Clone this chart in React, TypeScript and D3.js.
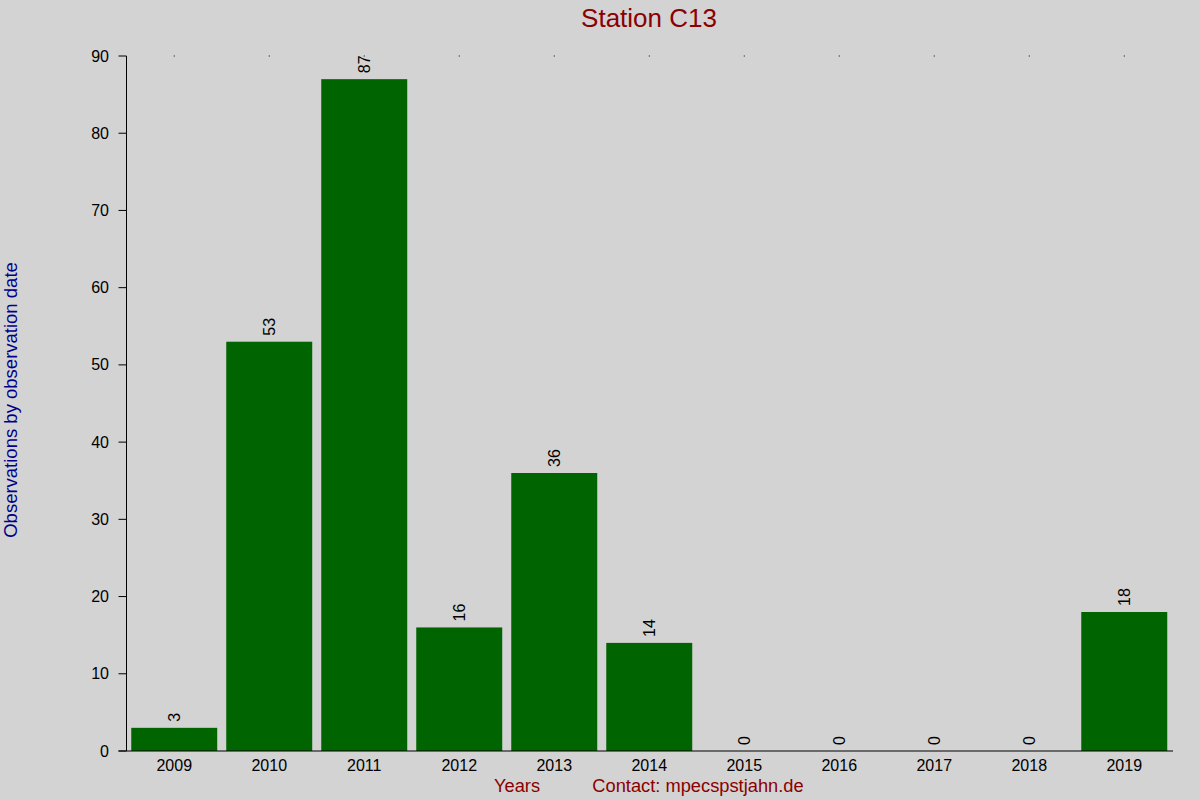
import React from "react";
import * as d3 from "d3";

const years = ["2009", "2010", "2011", "2012", "2013", "2014", "2015", "2016", "2017", "2018", "2019"];
const counts = [3, 53, 87, 16, 36, 14, 0, 0, 0, 0, 18];
const yTicks = [0, 10, 20, 30, 40, 50, 60, 70, 80, 90];

const W = 1200;
const H = 800;
const left = 126.5;
const right = 1172;
const top = 56;
const bottom = 751;
const FONT = "'Liberation Sans', Arial, Helvetica, sans-serif";

export default function App() {
  const x = d3.scaleBand<string>().domain(years).range([left, right]).paddingInner(0.095).paddingOuter(0.05);
  const y = d3.scaleLinear().domain([0, 90]).range([bottom, top]);
  const bw = x.bandwidth();

  return (
    <svg
      width={W}
      height={H}
      style={{ position: "fixed", left: 0, top: 0, background: "#d3d3d3" }}
      fontFamily={FONT}
    >
      <rect x={0} y={0} width={W} height={H} fill="#d3d3d3" />
      <text x={649} y={27} textAnchor="middle" fontSize={26} fill="#8b0000">
        Station C13
      </text>
      {years.map((yr, i) => (
        <g key={yr}>
          {counts[i] > 0 && (
            <rect x={x(yr)!} y={y(counts[i])} width={bw} height={y(0) - y(counts[i])} fill="#006400" />
          )}
          <text
            transform={`translate(${x(yr)! + bw / 2},${y(counts[i]) - 6}) rotate(-90)`}
            dy="0.35em"
            textAnchor="start"
            fontSize={16}
            fill="#000"
          >
            {counts[i]}
          </text>
          <rect x={x(yr)! + bw / 2 - 0.5} y={top - 0.5} width={1} height={1} fill="#000" />
          <text x={x(yr)! + bw / 2} y={771} textAnchor="middle" fontSize={16} fill="#000">
            {yr}
          </text>
        </g>
      ))}
      <line x1={left} x2={left} y1={top} y2={bottom} stroke="#000" strokeWidth={1} />
      {yTicks.map((t) => (
        <g key={t}>
          <line x1={left - 8} x2={left} y1={y(t)} y2={y(t)} stroke="#000" strokeWidth={1} />
          <text x={109} y={y(t)} dy="0.35em" textAnchor="end" fontSize={16} fill="#000">
            {t}
          </text>
        </g>
      ))}
      <line x1={left - 8} x2={right + 1} y1={bottom} y2={bottom} stroke="#000" strokeWidth={1} />
      <text transform={`translate(17,400) rotate(-90)`} textAnchor="middle" fontSize={18.5} fill="#00008b">
        Observations by observation date
      </text>
      <text x={517} y={792} textAnchor="middle" fontSize={18.3} fill="#8b0000">
        Years
      </text>
      <text x={698} y={792} textAnchor="middle" fontSize={18.3} fill="#8b0000">
        Contact: mpecspstjahn.de
      </text>
    </svg>
  );
}
